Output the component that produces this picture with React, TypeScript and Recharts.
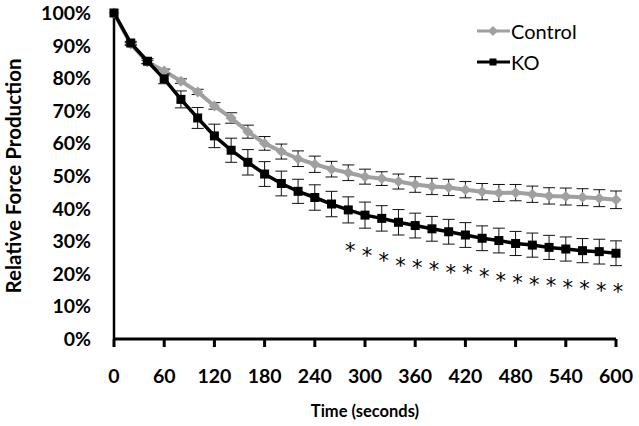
import { ComposedChart, Line, XAxis, YAxis, ErrorBar, Scatter, Legend } from "recharts"

const times = [0, 20, 40, 60, 80, 100, 120, 140, 160, 180, 200, 220, 240, 260, 280, 300, 320, 340, 360, 380, 400, 420, 440, 460, 480, 500, 520, 540, 560, 580, 600]
const controlMean = [100, 90.5, 85, 82.2, 79.1, 75.8, 71.5, 67.8, 63.6, 60.0, 57.5, 55.3, 53.6, 52.1, 51.0, 49.8, 49.2, 48.3, 47.4, 46.8, 46.5, 45.8, 45.2, 44.8, 44.9, 44.4, 43.9, 43.7, 43.5, 43.2, 42.7]
const controlSem = [0, 0.4, 0.5, 0.6, 0.7, 0.8, 1.0, 1.6, 2.0, 2.1, 2.3, 2.4, 2.5, 2.4, 2.4, 2.3, 2.1, 2.3, 2.4, 2.5, 2.5, 2.5, 2.5, 2.6, 2.5, 2.5, 2.5, 2.6, 2.6, 2.6, 2.7]
const koMean = [100, 90.8, 85.2, 79.8, 73.5, 67.8, 62.3, 57.9, 54.2, 50.6, 47.7, 45.3, 43.4, 41.4, 39.6, 38.0, 37.0, 35.8, 34.8, 33.8, 32.9, 31.9, 30.9, 30.2, 29.3, 28.8, 28.1, 27.6, 27.1, 26.8, 26.3]
const koSem = [0, 0.5, 0.8, 1.5, 2.6, 3.2, 3.6, 3.7, 3.9, 3.8, 3.8, 3.7, 3.9, 3.9, 4.0, 4.0, 3.9, 3.9, 3.8, 3.8, 3.8, 3.8, 3.8, 3.8, 3.7, 3.7, 3.7, 3.7, 3.7, 3.8, 3.8]

// significance marks (asterisks) under the KO curve
const starTimes = [280, 300, 320, 340, 360, 380, 400, 420, 440, 460, 480, 500, 520, 540, 560, 580, 600]
const starLevels = [28.4, 26.9, 25.4, 24.0, 23.3, 22.8, 21.8, 21.8, 20.5, 19.4, 18.7, 18.2, 17.7, 17.2, 16.9, 16.4, 16.0]

const xTicks = [0, 60, 120, 180, 240, 300, 360, 420, 480, 540, 600]
const yTicks = [0, 10, 20, 30, 40, 50, 60, 70, 80, 90, 100]

const GRAY = "#a0a0a0"
const FONT = "Lato, 'Open Sans', sans-serif"

const data = times.map((t, i) => ({
  t,
  control: controlMean[i],
  controlErr: controlSem[i],
  ko: koMean[i],
  koErr: koSem[i],
}))

const stars = starTimes.map((t, i) => ({ t, star: starLevels[i] }))

const Diamond = (props: any) => {
  const { cx, cy } = props
  if (cx == null || cy == null) return null
  const r = 5.5
  return <path key={props.key} d={`M${cx},${cy - r}L${cx + r},${cy}L${cx},${cy + r}L${cx - r},${cy}Z`} fill={GRAY} />
}

const Square = (props: any) => {
  const { cx, cy } = props
  if (cx == null || cy == null) return null
  return <rect key={props.key} x={cx - 4.5} y={cy - 4.5} width={9} height={9} fill="#000" />
}

const Star = (props: any) => (
  <text
    x={props.cx + 2}
    y={props.cy}
    dy={12}
    textAnchor="middle"
    fontSize={21}
    fontFamily="'DejaVu Sans', sans-serif"
    fill="#000"
  >
    *
  </text>
)

const renderLegend = () => (
  <div style={{ fontFamily: FONT, fontSize: 20, color: "#000" }}>
    <div style={{ display: "flex", alignItems: "center", height: 31 }}>
      <svg width={34} height={14} style={{ display: "block" }}>
        <line x1={0} y1={7} x2={33} y2={7} stroke={GRAY} strokeWidth={3} />
        <path d="M16,2L21,7L16,12L11,7Z" fill={GRAY} />
      </svg>
      <span>Control</span>
    </div>
    <div style={{ display: "flex", alignItems: "center", height: 31 }}>
      <svg width={34} height={14} style={{ display: "block" }}>
        <line x1={0} y1={7} x2={33} y2={7} stroke="#000" strokeWidth={3} />
        <rect x={12.5} y={3.5} width={7} height={7} fill="#000" />
      </svg>
      <span>KO</span>
    </div>
  </div>
)

export default function App() {
  return (
    <div style={{ position: "absolute", left: 0, top: 0, width: 639, height: 426, background: "#fff", fontFamily: FONT }}>
      <ComposedChart width={639} height={426} data={data} margin={{ top: 13, right: 23, bottom: 0, left: 0 }}>
        <XAxis
          dataKey="t"
          type="number"
          domain={[0, 600]}
          ticks={xTicks}
          interval={0}
          tickSize={8}
          tickMargin={22}
          height={87}
          axisLine={{ stroke: "#000", strokeWidth: 3 }}
          tickLine={{ stroke: "#000", strokeWidth: 3 }}
          tick={{ fill: "#000", fontSize: 19.5, fontWeight: 700, fontFamily: FONT }}
          label={{
            value: "Time (seconds)",
            position: "insideBottom",
            offset: 9,
            style: { fill: "#000", fontSize: 16.5, fontWeight: 700, fontFamily: FONT },
          }}
        />
        <YAxis
          type="number"
          domain={[0, 100]}
          ticks={yTicks}
          interval={0}
          width={114}
          tickLine={false}
          tickSize={0}
          tickMargin={23}
          tickFormatter={(v: number) => `${v}%`}
          axisLine={{ stroke: "#000", strokeWidth: 2.5 }}
          tick={{ fill: "#000", fontSize: 19.5, fontWeight: 700, fontFamily: FONT }}
          label={{
            value: "Relative Force Production",
            angle: -90,
            position: "insideLeft",
            offset: 14,
            style: { textAnchor: "middle", fill: "#000", fontSize: 20.5, fontWeight: 700, fontFamily: FONT },
          }}
        />
        <Legend
          layout="vertical"
          align="center"
          verticalAlign="middle"
          content={renderLegend}
          wrapperStyle={{ top: 15, left: 477, width: 140 }}
        />
        <Line
          dataKey="control"
          stroke={GRAY}
          strokeWidth={4}
          dot={Diamond}
          activeDot={false}
          isAnimationActive={false}
        >
          <ErrorBar dataKey="controlErr" width={6} stroke="#111" strokeWidth={1} direction="y" />
        </Line>
        <Line
          dataKey="ko"
          stroke="#000"
          strokeWidth={3.5}
          dot={Square}
          activeDot={false}
          isAnimationActive={false}
        >
          <ErrorBar dataKey="koErr" width={6} stroke="#111" strokeWidth={1} direction="y" />
        </Line>
        <Scatter data={stars} dataKey="star" shape={Star} isAnimationActive={false} />
      </ComposedChart>
    </div>
  )
}
